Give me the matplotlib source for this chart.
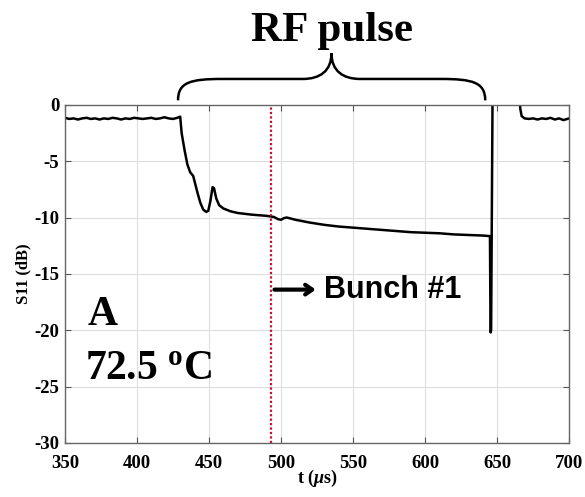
import matplotlib
matplotlib.use("Agg")
import matplotlib.pyplot as plt
from matplotlib.path import Path
from matplotlib.patches import PathPatch

# -----------------------------
# Data
# -----------------------------

base_t = [350, 353, 356, 359, 362, 365, 368, 371, 374, 377, 380, 383, 386, 389,
          392, 395, 398, 401, 404, 407, 410, 413, 416, 419, 422, 425, 428, 430]
base_s = [-1.15, -1.25, -1.2, -1.3, -1.2, -1.15, -1.25, -1.2, -1.3, -1.2, -1.25, -1.15,
          -1.2, -1.3, -1.2, -1.25, -1.15, -1.2, -1.25, -1.2, -1.15, -1.25, -1.2, -1.1,
          -1.2, -1.25, -1.15, -1.05]

pulse_t = [431, 433, 435, 437, 439, 440, 442, 444, 446, 448, 449.5, 451, 452.5, 453.5,
           455, 457, 460, 465, 470, 480, 490, 495, 498, 500, 502, 504, 510, 520, 530,
           540, 550, 560, 570, 580, 590, 600, 610, 620, 630, 640, 645, 645.4, 645.8, 647]
pulse_s = [-2.5, -4.0, -5.3, -6.0, -6.3, -6.8, -7.8, -8.7, -9.3, -9.5, -9.4, -8.5, -7.3, -7.4,
           -8.3, -8.9, -9.2, -9.45, -9.6, -9.75, -9.85, -9.95, -10.15, -10.2, -10.05, -10.0,
           -10.2, -10.45, -10.65, -10.8, -10.9, -11.0, -11.1, -11.2, -11.3, -11.35, -11.4,
           -11.5, -11.55, -11.6, -11.65, -20.2, -20.0, 5.0]

after_t = [665, 666, 667, 669, 672, 675, 678, 681, 684, 687, 690, 693, 696, 700]
after_s = [5.0, -0.3, -1.0, -1.2, -1.25, -1.2, -1.3, -1.2, -1.25, -1.15, -1.3, -1.2, -1.35, -1.2]

t = base_t + pulse_t + after_t
s11 = base_s + pulse_s + after_s

bunch_t = 493

x_ticks = [350, 400, 450, 500, 550, 600, 650, 700]
y_ticks = [0, -5, -10, -15, -20, -25, -30]

# -----------------------------
# Style
# -----------------------------

plt.rcParams["font.family"] = ["Liberation Serif", "DejaVu Serif"]
plt.rcParams["font.weight"] = "bold"
plt.rcParams["axes.unicode_minus"] = False
plt.rcParams["mathtext.fontset"] = "custom"
plt.rcParams["mathtext.rm"] = "Liberation Serif:bold"
plt.rcParams["mathtext.it"] = "Liberation Serif:italic"
plt.rcParams["mathtext.bf"] = "Liberation Serif:bold"

fig = plt.figure(figsize=(5.85, 4.97), dpi=100)
ax = fig.add_axes([0.111, 0.109, 0.862, 0.680])

ax.plot(t, s11, color="black", lw=1.8, solid_joinstyle="round")
ax.axvline(bunch_t, color="#c8102e", lw=1.6, ls=(0, (1, 1)))

ax.set_xlim(350, 700)
ax.set_ylim(-30, 0)
ax.set_xticks(x_ticks)
ax.set_yticks(y_ticks)
ax.tick_params(direction="in", top=True, right=True, labelsize=13.5, color="#555555",
               length=4)
ax.tick_params(axis="x", pad=9)
ax.tick_params(axis="y", pad=4)
for lab in ax.get_xticklabels() + ax.get_yticklabels():
    lab.set_fontweight("bold")
ax.grid(True, color="#dddddd", lw=0.8)
for sp in ax.spines.values():
    sp.set_color("#666666")
    sp.set_linewidth(1.0)

ax.set_xlabel(r"t ($\mu$s)", fontsize=13, fontweight="bold", labelpad=-3)
ax.set_ylabel("S11 (dB)", fontsize=12, fontweight="bold", labelpad=2)

# annotations
ax.text(366, -19.5, "A", fontsize=30, fontweight="bold")
ax.text(364, -24.3, r"72.5 $^{\mathbf{o}}$C", fontsize=30, fontweight="bold")

ax.annotate("", xy=(526, -16.4), xytext=(493.5, -16.4),
            arrowprops=dict(arrowstyle="->,head_length=0.5,head_width=0.35", lw=3, color="black"))
ax.text(530, -16.4, "Bunch #1", fontsize=22, fontweight="bold", va="center",
        family=["Liberation Sans", "DejaVu Sans"])

# brace over the pulse
verts = [(428.5, 0.4), (428.5, 2.0), (437, 2.3), (459, 2.3),
         (515, 2.3),
         (527, 2.3), (535, 3.0), (535, 4.6),
         (535, 3.0), (543, 2.3), (555, 2.3),
         (611, 2.3),
         (633, 2.3), (641.7, 2.0), (641.7, 0.4)]
codes = [Path.MOVETO, Path.CURVE4, Path.CURVE4, Path.CURVE4,
         Path.LINETO,
         Path.CURVE4, Path.CURVE4, Path.CURVE4,
         Path.CURVE4, Path.CURVE4, Path.CURVE4,
         Path.LINETO,
         Path.CURVE4, Path.CURVE4, Path.CURVE4]
brace = PathPatch(Path(verts, codes), fill=False, lw=1.8, color="black", clip_on=False)
ax.add_patch(brace)

fig.text(332 / 585, 1 - 31 / 497, "RF pulse", fontsize=31, fontweight="bold",
         ha="center", va="center")

fig.savefig("out.png", dpi=100)
